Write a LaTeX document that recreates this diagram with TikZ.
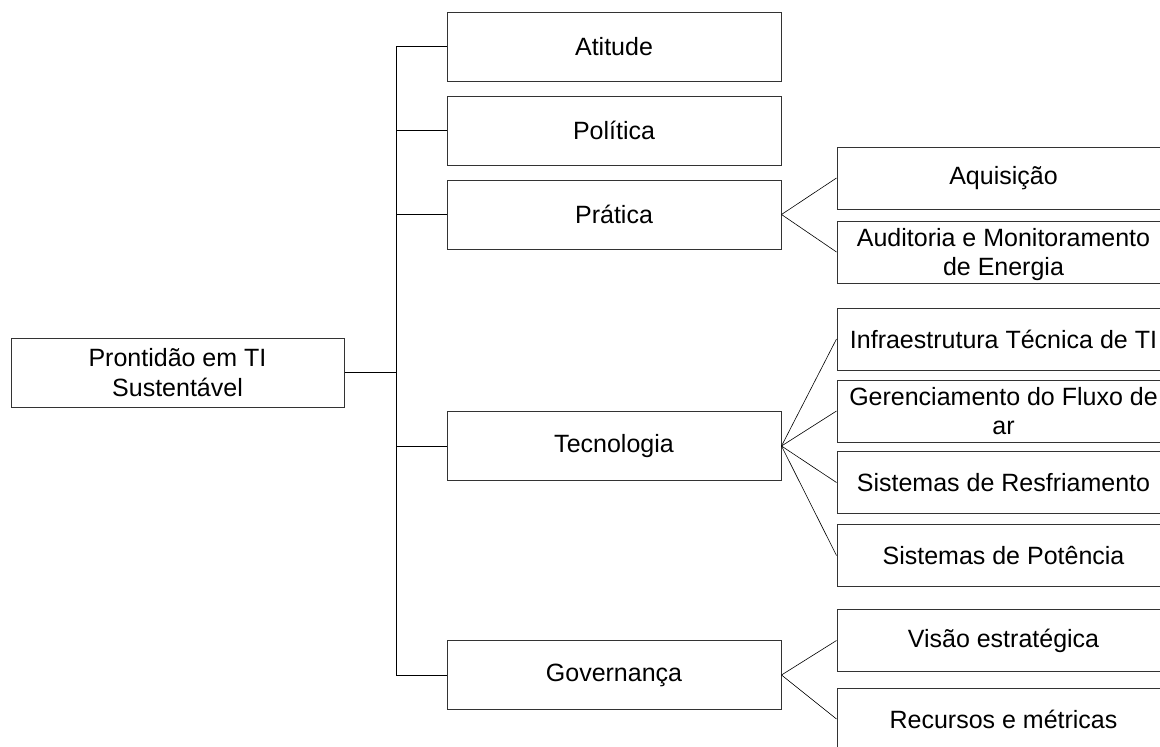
\documentclass[tikz,border=0pt]{standalone}
\usepackage{fontspec}
\setmainfont{Liberation Sans}
\begin{document}
\begin{tikzpicture}[x=1pt,y=-1pt,
  box/.style={draw=black!80, line width=1pt, fill=white, text=black,
    font=\fontsize{25}{29.5}\selectfont, align=center, inner sep=0pt},
  mainbox/.style={box, minimum width=334pt, minimum height=69pt},
  subbox/.style={box, minimum width=333pt, minimum height=62pt},
  conn/.style={draw=black, line width=0.9pt},
  fan/.style={draw=black, line width=0.6pt}]
\useasboundingbox (0,0) rectangle (1160,747);
\clip (0,0) rectangle (1160,747);
\fill[white] (0,0) rectangle (1160,747);
\coordinate (tk) at (396,0);
% main column
\node[mainbox, minimum width=333pt] (root) at (177.5,372.5) {Prontidão em TI\\Sustentável};
\node[mainbox] (atitude) at (614,46.5) {Atitude};
\node[mainbox] (politica) at (614,130.5) {Política};
\node[mainbox] (pratica) at (614,214.5) {Prática};
\node[mainbox] (tecno) at (614,446) {Tecnologia};
\node[mainbox] (gov) at (614,675) {Governança};
% sub boxes
\node[subbox] (aquis) at (1003.5,178) {Aquisição};
\node[subbox, text depth=0pt] (audit) at (1003.5,252) {Auditoria e Monitoramento\\de Energia};
\node[subbox] (infra) at (1003.5,339) {Infraestrutura Técnica de TI};
\node[subbox] (geren) at (1003.5,411) {Gerenciamento do Fluxo de\\ar};
\node[subbox] (resfr) at (1003.5,482.5) {Sistemas de Resfriamento};
\node[subbox] (poten) at (1003.5,555.5) {Sistemas de Potência};
\node[subbox] (visao) at (1003.5,640.5) {Visão estratégica};
\node[subbox] (recur) at (1003.5,719) {Recursos e métricas};
% trunk connectors
\draw[conn] (root.east) -- (root.east -| tk);
\draw[conn] (atitude.west -| tk) -- (gov.west -| tk);
\foreach \n in {atitude,politica,pratica,tecno,gov}
  \draw[conn] (\n.west -| tk) -- (\n.west);
% fans
\draw[fan] (pratica.east) -- (aquis.west);
\draw[fan] (pratica.east) -- (audit.west);
\foreach \n in {infra,geren,resfr,poten}
  \draw[fan] (tecno.east) -- (\n.west);
\draw[fan] (gov.east) -- (visao.west);
\draw[fan] (gov.east) -- (recur.west);
\end{tikzpicture}
\end{document}
